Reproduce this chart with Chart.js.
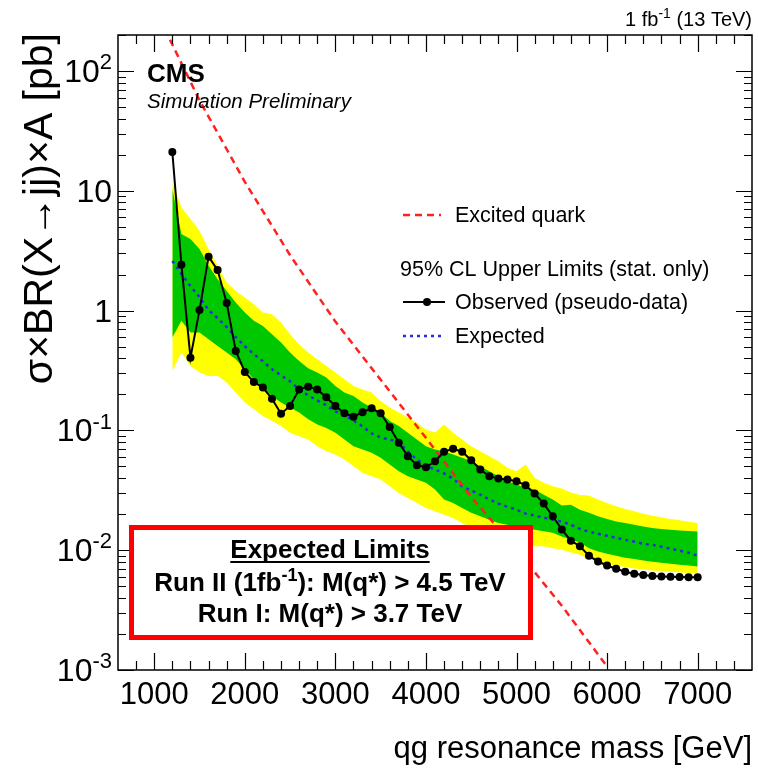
<!DOCTYPE html>
<html lang="en">
<head>
<meta charset="UTF-8">
<title>Dijet resonance limits</title>
<style>
  html, body { margin: 0; padding: 0; background: #ffffff; }
  #wrap { position: relative; width: 758px; height: 769px; }
</style>
</head>
<body>
<div id="wrap"><canvas id="limitChart"></canvas></div>
<script src="https://cdn.jsdelivr.net/npm/chart.js"></script>
<script>
// resonance mass points (GeV)
const masses = [1200, 1300, 1400, 1500, 1600, 1700, 1800, 1900, 2000, 2100,
  2200, 2300, 2400, 2500, 2600, 2700, 2800, 2900, 3000, 3100,
  3200, 3300, 3400, 3500, 3600, 3700, 3800, 3900, 4000, 4100,
  4200, 4300, 4400, 4500, 4600, 4700, 4800, 4900, 5000, 5100,
  5200, 5300, 5400, 5500, 5600, 5700, 5800, 5900, 6000, 6100,
  6200, 6300, 6400, 6500, 6600, 6700, 6800, 6900, 7000];

// observed limit (pseudo-data), pb
const observed = [21.1, 2.42, 0.405, 1.01, 2.82, 2.18, 1.16, 0.461, 0.308, 0.254,
  0.228, 0.184, 0.138, 0.160, 0.220, 0.232, 0.220, 0.189, 0.160, 0.139,
  0.130, 0.142, 0.153, 0.139, 0.107, 0.0789, 0.0610, 0.0513, 0.0493, 0.0553,
  0.0664, 0.0703, 0.0664, 0.0563, 0.0472, 0.0415, 0.0396, 0.0389, 0.0377, 0.0348,
  0.0297, 0.0245, 0.0192, 0.0149, 0.0120, 0.0108, 0.0090, 0.00805, 0.00746, 0.00700,
  0.00661, 0.00635, 0.00620, 0.00608, 0.00604, 0.00600, 0.00597, 0.00594, 0.00594];

// expected limit (median)
const expected = [2.60, 2.02, 1.60, 1.30, 1.01, 0.865, 0.728, 0.600, 0.505, 0.433,
  0.378, 0.324, 0.288, 0.257, 0.220, 0.196, 0.178, 0.162, 0.144, 0.134,
  0.121, 0.108, 0.0944, 0.0873, 0.0841, 0.0794, 0.0667, 0.0571, 0.0509, 0.0472,
  0.0437, 0.0396, 0.0340, 0.0315, 0.0291, 0.0265, 0.0245, 0.0231, 0.0218, 0.0202,
  0.0195, 0.0187, 0.0180, 0.0173, 0.0163, 0.0151, 0.0143, 0.0137, 0.0132, 0.0127,
  0.0122, 0.0118, 0.0113, 0.0111, 0.0107, 0.0103, 0.00991, 0.00953, 0.00900];

// +/- 2 sigma band
const band2Up = [11.8, 7.31, 5.83, 4.65, 3.27, 2.37, 1.72, 1.46, 1.29, 1.13,
  0.966, 0.935, 0.797, 0.636, 0.524, 0.447, 0.393, 0.345, 0.304, 0.267,
  0.235, 0.220, 0.207, 0.176, 0.155, 0.141, 0.128, 0.116, 0.102, 0.0962,
  0.112, 0.0957, 0.0841, 0.0739, 0.0671, 0.0609, 0.0553, 0.0487, 0.0456, 0.0519,
  0.0402, 0.0365, 0.0342, 0.0327, 0.0303, 0.0289, 0.0286, 0.0265, 0.0248, 0.0233,
  0.0221, 0.0211, 0.0202, 0.0194, 0.0188, 0.0182, 0.0178, 0.0173, 0.0169];
const band2Down = [0.313, 0.447, 0.345, 0.304, 0.285, 0.285, 0.251, 0.207, 0.171, 0.150,
  0.132, 0.120, 0.109, 0.0957, 0.0896, 0.0841, 0.0739, 0.0671, 0.0630, 0.0572,
  0.0503, 0.0443, 0.0415, 0.0389, 0.0342, 0.0301, 0.0273, 0.0248, 0.0225, 0.0211,
  0.0198, 0.0186, 0.0169, 0.0153, 0.0144, 0.0130, 0.0122, 0.0118, 0.0115, 0.0115,
  0.0108, 0.0108, 0.0104, 0.0101, 0.00959, 0.00917, 0.00844, 0.00801, 0.00766, 0.00742,
  0.00724, 0.00704, 0.00691, 0.00678, 0.00670, 0.00661, 0.00652, 0.00644, 0.00636];

// +/- 1 sigma band
const band1Up = [10.4, 4.37, 3.97, 3.27, 2.37, 1.83, 1.46, 1.17, 0.966, 0.822,
  0.746, 0.636, 0.542, 0.447, 0.380, 0.330, 0.304, 0.276, 0.235, 0.207,
  0.194, 0.171, 0.155, 0.141, 0.120, 0.109, 0.0957, 0.0841, 0.0739, 0.0693,
  0.0671, 0.0630, 0.0591, 0.0553, 0.0503, 0.0456, 0.0415, 0.0376, 0.0353, 0.0332,
  0.0321, 0.0291, 0.0265, 0.0236, 0.0240, 0.0218, 0.0205, 0.0192, 0.0182, 0.0174,
  0.0169, 0.0163, 0.0158, 0.0153, 0.0150, 0.0148, 0.0146, 0.0145, 0.0143];
const band1Down = [0.597, 0.822, 0.657, 0.657, 0.577, 0.507, 0.447, 0.393, 0.324, 0.267,
  0.228, 0.194, 0.171, 0.155, 0.141, 0.124, 0.112, 0.105, 0.0957, 0.0841,
  0.0739, 0.0693, 0.0651, 0.0591, 0.0519, 0.0456, 0.0415, 0.0389, 0.0365, 0.0321,
  0.0265, 0.0248, 0.0225, 0.0205, 0.0192, 0.0180, 0.0169, 0.0163, 0.0158, 0.0153,
  0.0148, 0.0144, 0.0140, 0.0130, 0.0122, 0.0116, 0.0104, 0.00977, 0.00935, 0.00899,
  0.00865, 0.00844, 0.00821, 0.00801, 0.00786, 0.00771, 0.00756, 0.00746, 0.00732];

// excited quark cross section
const qstarMasses = [1000, 1500, 2000, 2500, 3000, 3500, 4000, 4500, 5000, 5500, 6000];
const qstarXsec = [340, 56.9, 11.9, 2.90, 0.81, 0.265, 0.0867, 0.0279, 0.0101, 0.00344, 0.00107];

// axis ticks
const xTicks = [1000, 2000, 3000, 4000, 5000, 6000, 7000];
const yTicks = [100, 10, 1, 0.1, 0.01, 0.001];
const yTickLabels = [['10', '2'], ['10', ''], ['1', ''], ['10', '-1'], ['10', '-2'], ['10', '-3']];

const FONT = '"Liberation Sans", Arial, Helvetica, sans-serif';
const GREEN = '#00c800';
const YELLOW = '#ffff00';

const pts = (xs, ys) => xs.map((x, i) => ({ x: x, y: ys[i] }));

// text with superscript pieces: parts = [[text, isSup], ...]
function richText(ctx, parts, x, y, size, align, weight, style) {
  const supSize = Math.round(size * 0.68);
  const f = s => `${style || 'normal'} ${weight || 'normal'} ${s}px ${FONT}`;
  let total = 0;
  const widths = parts.map(([t, sup]) => {
    ctx.font = f(sup ? supSize : size);
    const w = ctx.measureText(t).width;
    total += w;
    return w;
  });
  let cx = align === 'right' ? x - total : align === 'center' ? x - total / 2 : x;
  ctx.textAlign = 'left';
  ctx.textBaseline = 'alphabetic';
  parts.forEach(([t, sup], i) => {
    ctx.font = f(sup ? supSize : size);
    ctx.fillText(t, cx, sup ? y - size * 0.4 : y);
    cx += widths[i];
  });
  return total;
}

const decorations = {
  id: 'decorations',
  afterDraw(chart) {
    const ctx = chart.ctx;
    const a = chart.chartArea;
    const xs = chart.scales.x;
    const ys = chart.scales.y;
    ctx.save();
    ctx.fillStyle = '#000';
    ctx.strokeStyle = '#000';

    // frame
    ctx.lineWidth = 1.5;
    ctx.strokeRect(a.left, a.top, a.right - a.left, a.bottom - a.top);

    // x ticks, major every 1000, minor every 200
    ctx.lineWidth = 1.2;
    ctx.beginPath();
    for (let m = 800; m < xs.max; m += 200) {
      const px = Math.round(xs.getPixelForValue(m)) + 0.5;
      const len = m % 1000 === 0 ? 17 : 9;
      ctx.moveTo(px, a.bottom); ctx.lineTo(px, a.bottom - len);
      ctx.moveTo(px, a.top); ctx.lineTo(px, a.top + len);
    }
    // y ticks, log decades with 2..9 minors
    for (let d = 0.001; d < 150; d *= 10) {
      for (let k = 1; k <= 9; k++) {
        const v = d * k;
        if (v > ys.max) break;
        const py = Math.round(ys.getPixelForValue(v)) + 0.5;
        const len = k === 1 ? 16 : 8;
        ctx.moveTo(a.left, py); ctx.lineTo(a.left + len, py);
        ctx.moveTo(a.right, py); ctx.lineTo(a.right - len, py);
      }
    }
    ctx.stroke();

    // x tick labels
    ctx.font = `31px ${FONT}`;
    ctx.textAlign = 'center';
    ctx.textBaseline = 'alphabetic';
    xTicks.forEach(m => ctx.fillText(String(m), xs.getPixelForValue(m), 704));

    // y tick labels
    yTicks.forEach((v, i) => {
      const [base, exp] = yTickLabels[i];
      const py = ys.getPixelForValue(v) + 11;
      const parts = exp ? [[base, false], [exp, true]] : [[base, false]];
      richText(ctx, parts, 112, py, 32, 'right');
    });

    // axis titles
    ctx.font = `31px ${FONT}`;
    ctx.textAlign = 'right';
    ctx.fillText('qg resonance mass [GeV]', a.right, 758);
    ctx.save();
    ctx.translate(52, a.top - 2);
    ctx.rotate(-Math.PI / 2);
    ctx.textAlign = 'right';
    ctx.font = `41px ${FONT}`;
    ctx.fillText('\u03C3\u00D7BR(X\u2192jj)\u00D7A [pb]', 0, 0);
    ctx.restore();

    // header texts
    richText(ctx, [['1 fb', false], ['-1', true], [' (13 TeV)', false]], a.right, 26, 20, 'right');
    ctx.textAlign = 'left';
    ctx.font = `bold 26px ${FONT}`;
    ctx.fillText('CMS', 147, 82);
    ctx.font = `italic 20.5px ${FONT}`;
    ctx.fillText('Simulation Preliminary', 147, 108);

    // legend
    const lx = 403;
    ctx.font = `21.5px ${FONT}`;
    ctx.lineWidth = 2.5;
    ctx.strokeStyle = '#ff2020';
    ctx.setLineDash([7, 5]);
    ctx.beginPath(); ctx.moveTo(lx, 215); ctx.lineTo(lx + 38, 215); ctx.stroke();
    ctx.fillText('Excited quark', 455, 222);
    ctx.fillText('95% CL Upper Limits (stat. only)', 400, 276);
    ctx.setLineDash([]);
    ctx.strokeStyle = '#000';
    ctx.lineWidth = 2;
    ctx.beginPath(); ctx.moveTo(lx, 302); ctx.lineTo(lx + 42, 302); ctx.stroke();
    ctx.beginPath(); ctx.arc(lx + 24, 302, 4, 0, Math.PI * 2); ctx.fill();
    ctx.fillText('Observed (pseudo-data)', 455, 309);
    ctx.strokeStyle = '#2a2ae0';
    ctx.lineWidth = 2.5;
    ctx.setLineDash([3, 4]);
    ctx.beginPath(); ctx.moveTo(lx, 336); ctx.lineTo(lx + 40, 336); ctx.stroke();
    ctx.setLineDash([]);
    ctx.fillText('Expected', 455, 343);

    // summary box
    ctx.fillStyle = '#fff';
    ctx.fillRect(131.5, 527.5, 399, 110);
    ctx.strokeStyle = '#ff0000';
    ctx.lineWidth = 5;
    ctx.strokeRect(131.5, 527.5, 399, 110);
    ctx.fillStyle = '#000';
    const bw = richText(ctx, [['Expected Limits', false]], 330, 558, 26, 'center', 'bold');
    ctx.fillRect(330 - bw / 2, 561, bw, 2);
    richText(ctx, [['Run II (1fb', false], ['-1', true], ['): M(q*) > 4.5 TeV', false]], 330, 591, 26, 'center', 'bold');
    richText(ctx, [['Run I: M(q*) > 3.7 TeV', false]], 330, 622, 26, 'center', 'bold');

    ctx.restore();
  }
};

const canvas = document.getElementById('limitChart');
canvas.style.width = '758px';
canvas.style.height = '769px';

new Chart(canvas, {
  type: 'line',
  data: {
    datasets: [
      {
        label: '2 sigma up', data: pts(masses, band2Up),
        borderWidth: 0, pointRadius: 0, backgroundColor: YELLOW,
        fill: '+1', order: 6
      },
      {
        label: '2 sigma down', data: pts(masses, band2Down),
        borderWidth: 0, pointRadius: 0, fill: false, order: 6
      },
      {
        label: '1 sigma up', data: pts(masses, band1Up),
        borderWidth: 0, pointRadius: 0, backgroundColor: GREEN,
        fill: '+1', order: 5
      },
      {
        label: '1 sigma down', data: pts(masses, band1Down),
        borderWidth: 0, pointRadius: 0, fill: false, order: 5
      },
      {
        label: 'Expected', data: pts(masses, expected),
        borderColor: '#2a2ae0', borderWidth: 2.5, borderDash: [3, 4],
        pointRadius: 0, fill: false, order: 3
      },
      {
        label: 'Excited quark', data: pts(qstarMasses, qstarXsec),
        borderColor: '#ff2020', borderWidth: 2.5, borderDash: [7, 5],
        pointRadius: 0, fill: false, order: 2
      },
      {
        label: 'Observed (pseudo-data)', data: pts(masses, observed),
        borderColor: '#000', borderWidth: 2, pointRadius: 4,
        pointBackgroundColor: '#000', pointBorderWidth: 0,
        fill: false, order: 1
      }
    ]
  },
  options: {
    responsive: false,
    animation: false,
    layout: { padding: { left: 118, right: 6, top: 35, bottom: 99 } },
    plugins: { legend: { display: false }, tooltip: { enabled: false } },
    scales: {
      x: { type: 'linear', min: 600, max: 7600, display: false },
      y: { type: 'logarithmic', min: 0.001, max: 200, display: false }
    }
  },
  plugins: [decorations]
});
</script>
</body>
</html>
